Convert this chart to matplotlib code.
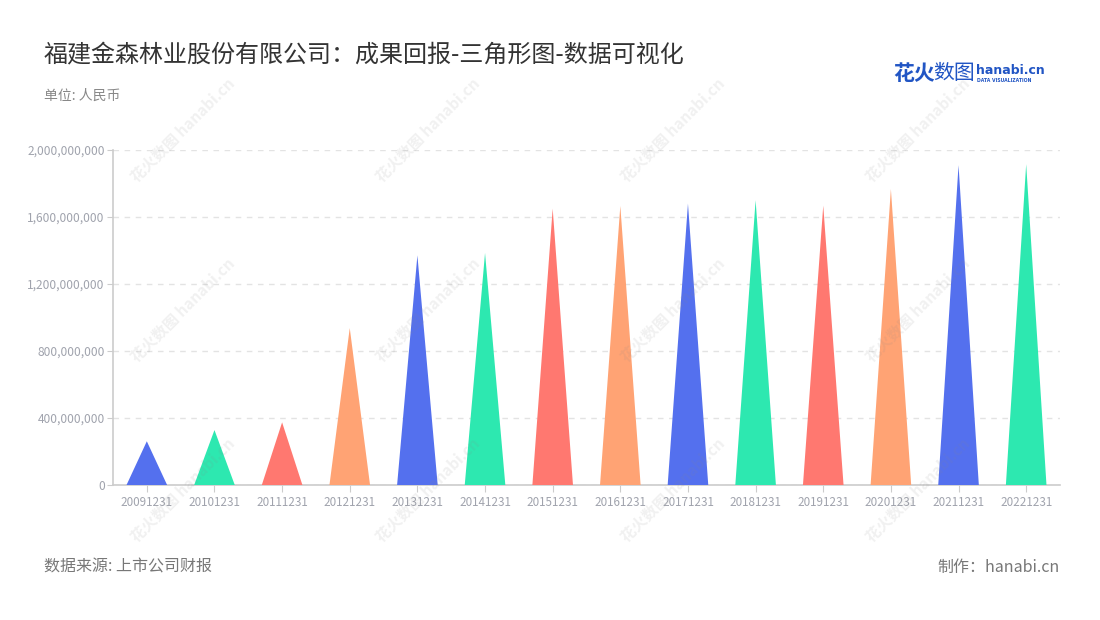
import matplotlib
matplotlib.use("Agg")
import matplotlib.pyplot as plt
from matplotlib.ticker import FuncFormatter

plt.rcParams['font.family'] = ['Noto Sans CJK SC', 'DejaVu Sans']

dates = ["20091231", "20101231", "20111231", "20121231", "20131231", "20141231", "20151231",
         "20161231", "20171231", "20181231", "20191231", "20201231", "20211231", "20221231"]
values = [261e6, 328e6, 374e6, 937e6, 1371e6, 1385e6, 1650e6,
          1666e6, 1680e6, 1700e6, 1668e6, 1767e6, 1909e6, 1915e6]
palette = ["#5470ee", "#2de8b0", "#ff7870", "#ffa374"]
yticks = [0, 400e6, 800e6, 1200e6, 1600e6, 2000e6]

BLUE = "#2155c4"; GRID = "#e3e3e3"; AX = "#cccccc"; TXT = "#a0a3ad"

fig = plt.figure(figsize=(11, 6.2), dpi=100)
fig.patch.set_facecolor("white")

ax = fig.add_axes([113/1100, 1-485/620, 947/1100, 335/620])
ax.set_facecolor("none")
w = 0.6
for i, v in enumerate(values):
    ax.fill([i - w/2, i, i + w/2], [0, v, 0], color=palette[i % 4], lw=0, zorder=3)

ax.set_xlim(-0.5, len(dates) - 0.5)
ax.set_ylim(0, 2000e6)
ax.set_xticks(range(len(dates)))
ax.set_xticklabels(dates)
ax.set_yticks(yticks)
ax.yaxis.set_major_formatter(FuncFormatter(lambda v, p: f"{int(v):,}"))
ax.grid(axis="y", color=GRID, ls=(0, (4, 4)), lw=1)
ax.set_axisbelow(True)
for s in ("top", "right"):
    ax.spines[s].set_visible(False)
for s in ("left", "bottom"):
    ax.spines[s].set_color(AX)
    ax.spines[s].set_linewidth(1.2)
ax.tick_params(axis="x", colors=AX, labelcolor=TXT, labelsize=8.4, length=5, pad=3)
ax.tick_params(axis="y", colors=AX, labelcolor=TXT, labelsize=8.6, length=4, pad=2)

# watermarks (faint, on top)
for wx in (183, 428, 673, 918):
    for wy in (130, 310, 490):
        fig.text(wx/1100, 1-wy/620, "花火数图 hanabi.cn", rotation=45, ha="center", va="center",
                 fontsize=11, color="#888888", fontweight="bold", alpha=0.12, zorder=10)

# titles
fig.text(44/1100, 1-55/620, "福建金森林业股份有限公司：成果回报-三角形图-数据可视化",
         fontsize=17.3, color="#333333", va="center")
fig.text(44/1100, 1-96/620, "单位: 人民币", fontsize=10, color="#888888", va="center")

# logo
fig.text(893/1100, 1-73/620, "花火", fontsize=15, color=BLUE, fontweight="bold", va="center")
fig.text(933/1100, 1-73/620, "数图", fontsize=15, color=BLUE, va="center")
fig.text(976/1100, 1-70/620, "hanabi.cn", fontsize=9, color=BLUE, fontweight="bold", va="center",
         family="DejaVu Sans")
fig.text(977/1100, 1-80/620, "DATA VISUALIZATION", fontsize=3.3, color=BLUE, va="center",
         family="DejaVu Sans", fontweight="bold")

# footer
fig.text(44/1100, 1-567/620, "数据来源: 上市公司财报", fontsize=11.5, color="#777777", va="center")
fig.text(1060/1100, 1-567/620, "制作：hanabi.cn", fontsize=11.5, color="#777777", va="center", ha="right")

fig.savefig("out.png", dpi=100, facecolor="white")
